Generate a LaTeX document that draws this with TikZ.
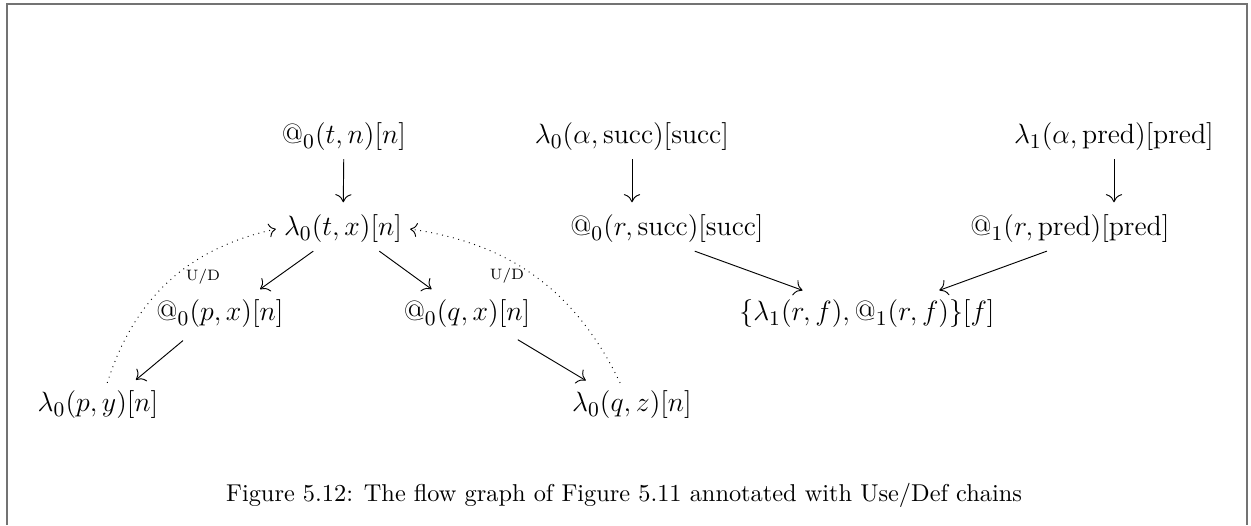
\documentclass[tikz,border=0pt]{standalone}
\usepackage{amsmath}
\usepackage{xcolor}
\usepackage{tikz}
\usetikzlibrary{arrows.meta, positioning, calc}

\begin{document}
\begin{tikzpicture}[
          every node/.style={font=\fontsize{13.2}{16}\selectfont},
          flow/.style={-{To[length=3.5pt,width=7pt]}, shorten >=2pt},
          usedef/.style={-{To[length=3pt,width=6pt]}, dotted},
          udlabel/.style={font=\fontsize{6.5}{8}\selectfont},
          frame/.style={draw=black!55, line width=0.9pt}
        ]
  \useasboundingbox (0,0) rectangle (18.955,-7.955);
  \draw[frame] (0.106,-7.955) -- (0.106,-0.061) -- (18.894,-0.061) -- (18.894,-7.955);

  \node (tn) at (5.212,-2.076) {$@_0(t,n)[n]$};
  \node (tx) at (5.197,-3.470) {$\lambda_0(t,x)[n]$};
  \node (px) at (3.333,-4.758) {$@_0(p,x)[n]$};
  \node (qx) at (7.076,-4.758) {$@_0(q,x)[n]$};
  \node (py) at (1.485,-6.136) {$\lambda_0(p,y)[n]$};
  \node (qz) at (9.576,-6.136) {$\lambda_0(q,z)[n]$};

  \node (as) at (9.576,-2.076) {$\lambda_0(\alpha,\mathrm{succ})[\mathrm{succ}]$};
  \node (ap) at (16.879,-2.076) {$\lambda_1(\alpha,\mathrm{pred})[\mathrm{pred}]$};
  \node (rs) at (10.106,-3.470) {$@_0(r,\mathrm{succ})[\mathrm{succ}]$};
  \node (rp) at (16.212,-3.470) {$@_1(r,\mathrm{pred})[\mathrm{pred}]$};
  \node (fs) at (13.136,-4.758) {$\{\lambda_1(r,f),@_1(r,f)\}[f]$};

  \draw[flow] (tn) -- (tx);
  \draw[flow] ([xshift=-0.45cm]tx.south) -- ([xshift=0.55cm]px.north);
  \draw[flow] ([xshift=0.55cm]tx.south) -- ([xshift=-0.48cm]qx.north);
  \draw[flow, shorten <=3pt] ([xshift=-0.48cm]px.south) -- ([xshift=0.52cm]py.north);
  \draw[flow, shorten <=3pt] ([xshift=0.68cm]qx.south) -- ([xshift=-0.64cm]qz.north);
  \draw[flow] (as) -- (as |- rs.north);
  \draw[flow] (ap) -- (ap |- rp.north);
  \draw[flow] ([xshift=0.42cm]rs.south) -- ([xshift=-0.91cm]fs.north);
  \draw[flow] ([xshift=-0.35cm]rp.south) -- ([xshift=1.03cm]fs.north);

  \draw[usedef] ([xshift=0.14cm]py.north) to[bend left=30] (tx.west);
  \draw[usedef] ([xshift=-0.18cm]qz.north) to[bend right=28] (tx.east);
  \node[udlabel] (ud1) at (3.076,-4.197) {U/D};
  \node[udlabel] (ud2) at (7.682,-4.182) {U/D};

  \node[font=\fontsize{10.5}{12.6}\selectfont] (cap) at (9.455,-7.5)
    {Figure 5.12: The flow graph of Figure 5.11 annotated with Use/Def chains};
\end{tikzpicture}
\end{document}
